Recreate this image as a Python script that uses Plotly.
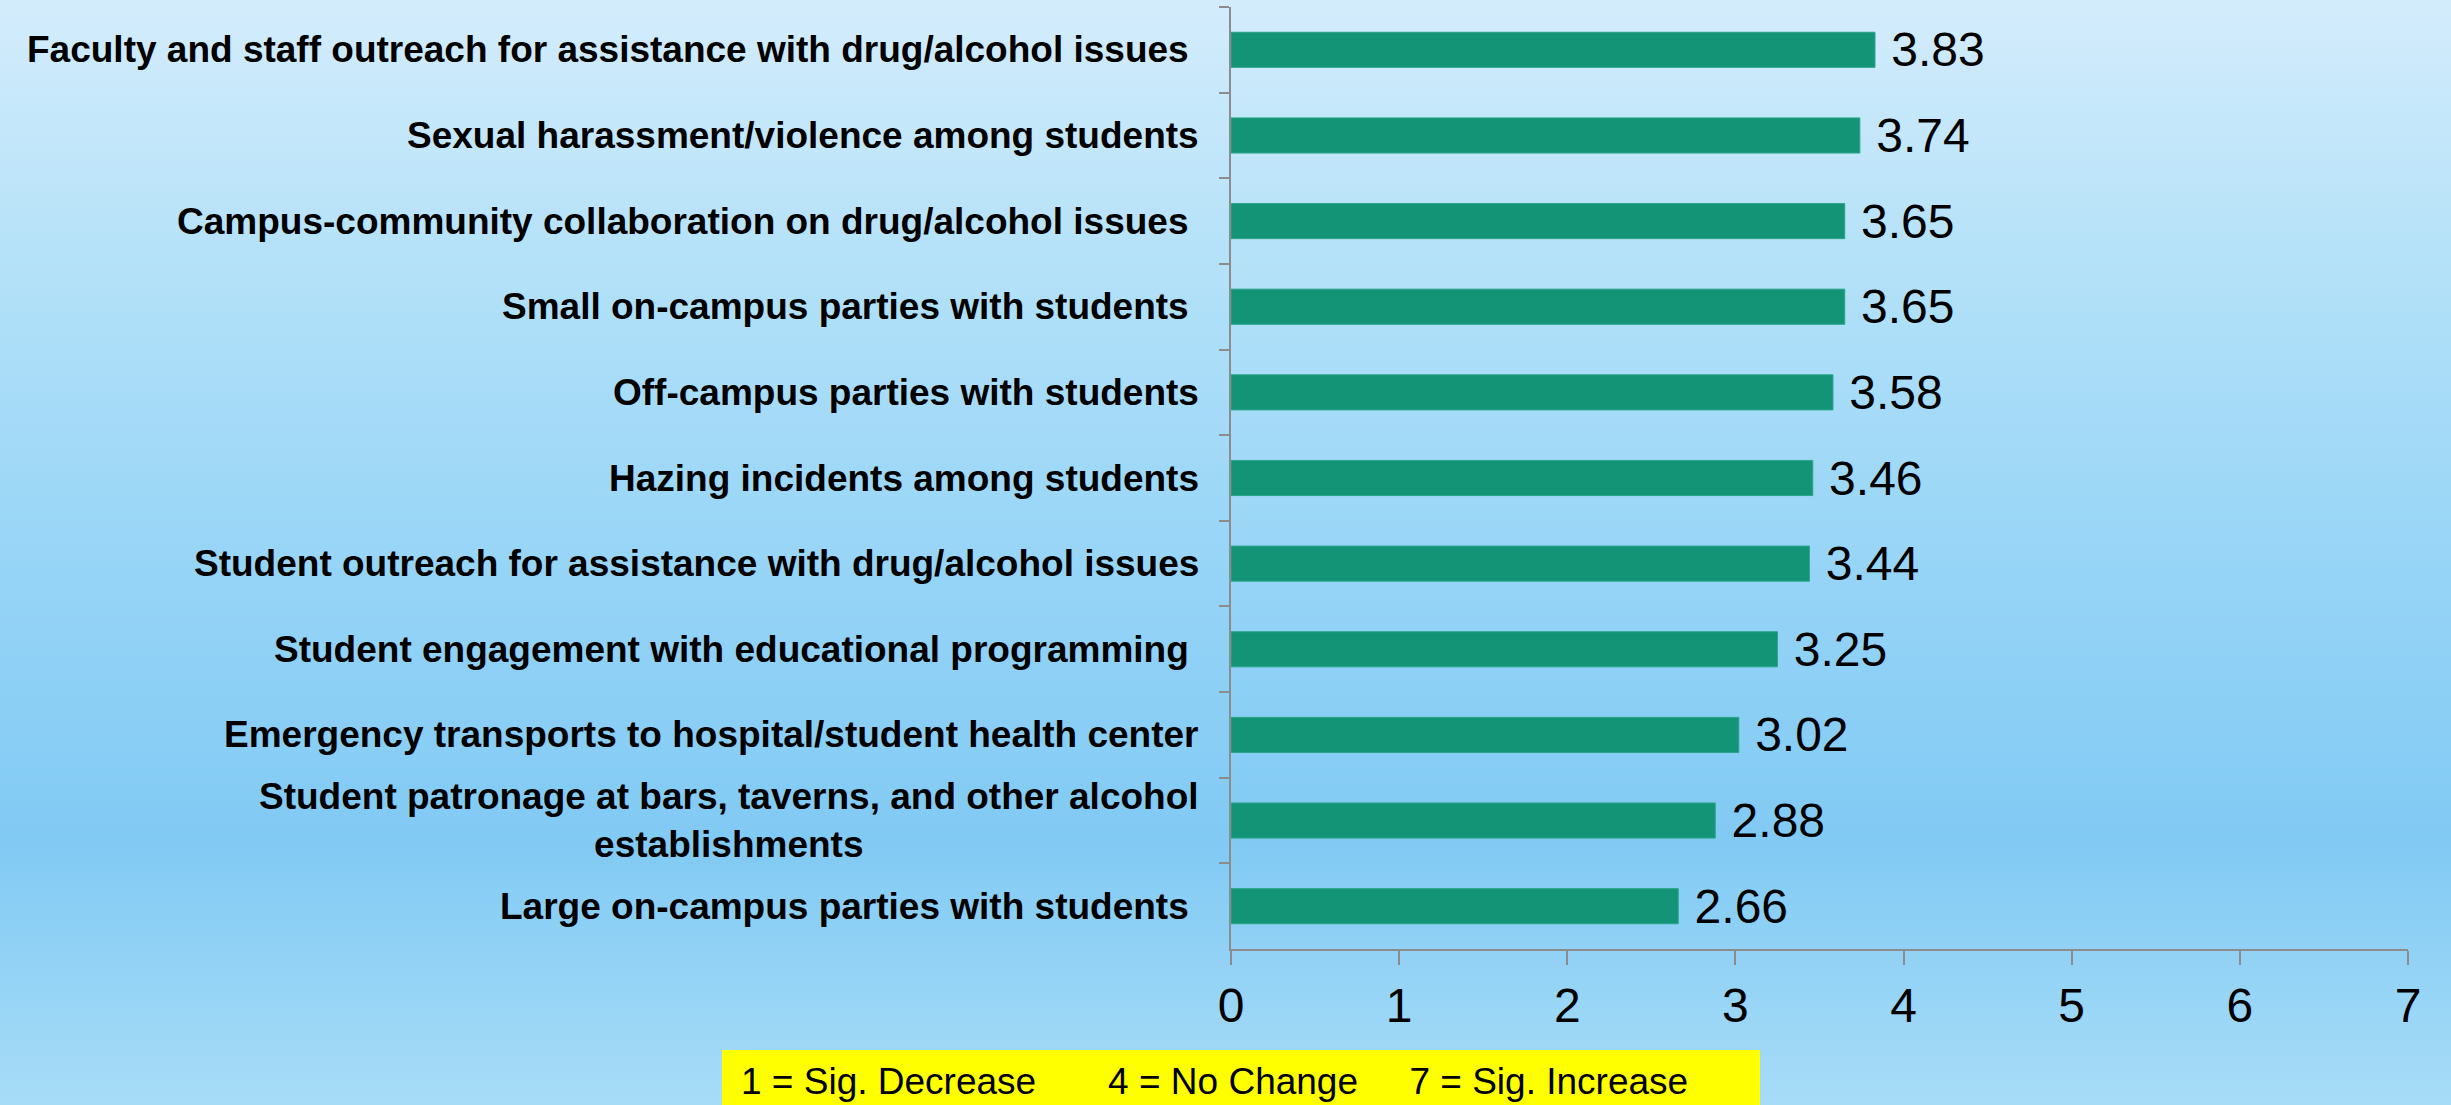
import plotly.graph_objects as go

# ---------------- data (top to bottom) ----------------
categories = [
    "Faculty and staff outreach for assistance with drug/alcohol issues\u00a0",
    "Sexual harassment/violence among students",
    "Campus-community collaboration on drug/alcohol issues\u00a0",
    "Small on-campus parties with students\u00a0",
    "Off-campus parties with students",
    "Hazing incidents among students",
    "Student outreach for assistance with drug/alcohol issues",
    "Student engagement with educational programming\u00a0",
    "Emergency transports to hospital/student health center",
    "Student patronage at bars, taverns, and other alcohol<br>establishments",
    "Large on-campus parties with students\u00a0",
]
values = [3.83, 3.74, 3.65, 3.65, 3.58, 3.46, 3.44, 3.25, 3.02, 2.88, 2.66]
x_ticks = [0, 1, 2, 3, 4, 5, 6, 7]
scale_note = ("1 = Sig. Decrease" + "\u00a0" * 6 + " 4 = No Change"
              + "\u00a0" * 4 + " 7 = Sig. Increase")

# ---------------- layout constants ----------------
W, H = 2451, 1105
L, R, T, B = 1231, 43, 7, 156
PW, PH = W - L - R, H - T - B
FONT = "Liberation Sans, Arial, sans-serif"
BAR = "#149476"
AXIS = "#8c8c8c"


def px_x(px):
    return (px - L) / PW


def px_y(py):
    return (H - B - py) / PH


# background gradient stops (fraction of height, rgb)
stops = [
    (0.00, (211, 236, 252)),
    (0.27, (176, 224, 248)),
    (0.50, (152, 213, 247)),
    (0.76, (129, 202, 244)),
    (1.00, (167, 220, 247)),
]


def grad(f):
    for (f0, c0), (f1, c1) in zip(stops[:-1], stops[1:]):
        if f0 <= f <= f1:
            t = (f - f0) / (f1 - f0)
            return "rgb(%d,%d,%d)" % tuple(round(a + (b - a) * t) for a, b in zip(c0, c1))
    return "rgb(%d,%d,%d)" % stops[-1][1]


shapes = []
band = 8
for py in range(0, H, band):
    shapes.append(dict(
        type="rect", xref="paper", yref="paper", layer="below",
        x0=px_x(-5), x1=px_x(W + 5), y0=px_y(min(py + band + 1, H + 2)), y1=px_y(py),
        fillcolor=grad((py + band / 2) / H), line=dict(width=0),
    ))

# yellow note box
shapes.append(dict(
    type="rect", xref="paper", yref="paper", layer="above",
    x0=px_x(722), x1=px_x(1760), y0=px_y(H + 2), y1=px_y(1050),
    fillcolor="#ffff00", line=dict(width=0),
))

fig = go.Figure()
fig.add_trace(go.Bar(
    y=categories, x=values, orientation="h",
    marker=dict(color=BAR, line=dict(color="#2aa58a", width=1)),
    width=0.41,
    text=values, texttemplate="\u00a0%{x:.2f}", textposition="outside",
    textfont=dict(family=FONT, size=48, color="#000000"),
    constraintext="none", cliponaxis=False,
    hoverinfo="skip",
))

annotations = []
for cat in categories:
    annotations.append(dict(
        x=0, y=cat, xref="x", yref="y", xanchor="right", yanchor="middle",
        xshift=-30, text="<b>%s</b>" % cat, showarrow=False, align="center",
        font=dict(family=FONT, size=37, color="#000000"),
    ))
annotations.append(dict(
    x=px_x(739), y=px_y(1081), xref="paper", yref="paper",
    xanchor="left", yanchor="middle", text=scale_note, showarrow=False,
    font=dict(family=FONT, size=37, color="#000000"),
))

fig.update_layout(
    width=W, height=H,
    margin=dict(l=L, r=R, t=T, b=B, pad=0),
    paper_bgcolor="#b0e0f8", plot_bgcolor="rgba(0,0,0,0)",
    showlegend=False, shapes=shapes, annotations=annotations,
    bargap=0.59,
    xaxis=dict(
        range=[0, 7], tickvals=x_ticks, ticktext=[str(v) for v in x_ticks],
        showgrid=False, zeroline=False, showline=True, linecolor=AXIS, linewidth=2,
        ticks="outside", ticklen=14, tickwidth=2, tickcolor=AXIS,
        tickfont=dict(family=FONT, size=48, color="#000000"),
        ticklabelstandoff=-1,
    ),
    yaxis=dict(
        type="category", categoryorder="array", categoryarray=categories,
        range=[10.5, -0.5], showgrid=False, zeroline=False,
        showline=True, linecolor=AXIS, linewidth=2,
        ticks="outside", tickson="boundaries", ticklen=10, tickwidth=2, tickcolor=AXIS,
        showticklabels=False,
    ),
)

fig.write_html(
    "out.html",
    config={"displayModeBar": False},
    post_script="document.body.style.margin='0';document.body.style.overflow='hidden';",
)
